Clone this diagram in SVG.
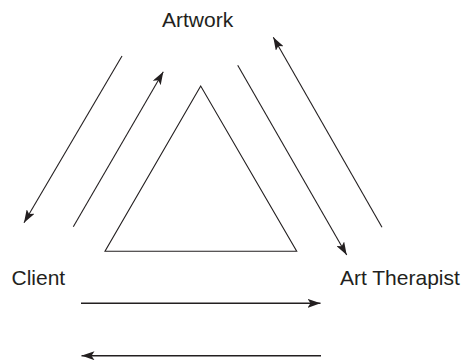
<svg xmlns="http://www.w3.org/2000/svg" width="463" height="362" viewBox="0 0 463 362">
<defs>
<style>
.lbl{font-family:"Liberation Sans",Arial,sans-serif;font-size:21px;fill:#231f20}
.ln{stroke:#231f20;stroke-width:1.1;fill:none}
.hz{stroke:#231f20;stroke-width:1.4;fill:none}
</style>
<marker id="ah" viewBox="0 0 13 9" refX="13" refY="4.5" markerWidth="13" markerHeight="9" markerUnits="userSpaceOnUse" orient="auto">
<path d="M0,0 L13,4.5 L0,9 L3,4.5 Z" fill="#231f20"/>
</marker>
</defs>
<rect width="463" height="362" fill="#fff"/>
<g id="artwork"><text class="lbl" x="162" y="27">Artwork</text></g>
<g id="client"><text class="lbl" x="11.5" y="285">Client</text></g>
<g id="therapist"><text class="lbl" x="340" y="285">Art Therapist</text></g>
<g id="triangle"><polygon class="ln" points="200.7,86 105,251.3 296.7,251.3"/></g>
<g id="connectors">
<line class="ln" x1="122" y1="56" x2="24" y2="222.7" marker-end="url(#ah)"/>
<line class="ln" x1="73.3" y1="226.7" x2="163.3" y2="71.7" marker-end="url(#ah)"/>
<line class="ln" x1="237.7" y1="65.3" x2="346.7" y2="255" marker-end="url(#ah)"/>
<line class="ln" x1="382" y1="227.3" x2="273.3" y2="37.3" marker-end="url(#ah)"/>
<line class="hz" x1="81" y1="303.3" x2="320.5" y2="303.3" marker-end="url(#ah)"/>
<line class="hz" x1="321" y1="355.7" x2="81.5" y2="355.7" marker-end="url(#ah)"/>
</g>
</svg>
